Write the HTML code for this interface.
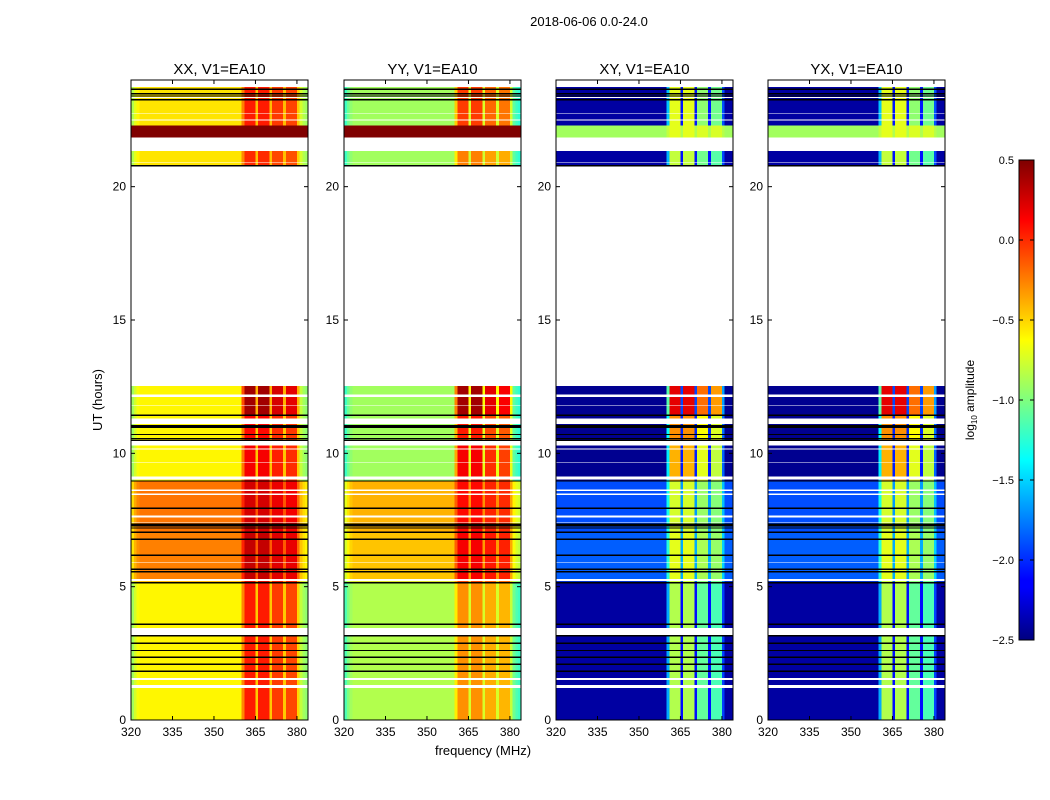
<!DOCTYPE html>
<html><head><meta charset="utf-8"><style>
body{margin:0;background:#fff;}
svg{display:block;font-family:"Liberation Sans","DejaVu Sans",sans-serif;}
</style></head><body>
<svg id="chart" width="1050" height="800" xmlns="http://www.w3.org/2000/svg">
<rect width="1050" height="800" fill="#fff"/>
<text x="589" y="26" font-size="13" text-anchor="middle">2018-06-06 0.0-24.0</text>
<text x="483" y="755" font-size="13" text-anchor="middle">frequency (MHz)</text>
<text transform="translate(102,400) rotate(-90)" font-size="13" text-anchor="middle">UT (hours)</text>
<defs><linearGradient id="jet" x1="0" y1="1" x2="0" y2="0">
<stop offset="0" stop-color="#00007f"/><stop offset="0.11" stop-color="#0000ff"/><stop offset="0.125" stop-color="#0000ff"/><stop offset="0.34" stop-color="#00dbff"/><stop offset="0.375" stop-color="#0ff"/><stop offset="0.5" stop-color="#7fff7f"/><stop offset="0.625" stop-color="#ff0"/><stop offset="0.66" stop-color="#ffdb00"/><stop offset="0.875" stop-color="#f00"/><stop offset="1" stop-color="#7f0000"/>
</linearGradient></defs>
<g id="panels"></g>
<g id="cbar"></g>
</svg>
<script>
// ---- data ----
const panelTitles = ["XX, V1=EA10","YY, V1=EA10","XY, V1=EA10","YX, V1=EA10"];
const segStart = [0, 5.2, 7.05, 8.96, 10.5, 11.4, 20.78, 21.84, 22.3];
const segEnd   = [5.2, 7.05, 8.96, 10.5, 11.4, 12.53, 21.34, 22.3, 23.73];
const xxBase = [-0.6, -0.25, -0.22, -0.6, -0.6, -0.6, -0.55, 0.5, -0.55];
const xxRfi  = [0.05, 0.3, 0.25, 0.15, 0.1, 0.4, 0.0, 0.5, 0.05];
const yyBase = [-0.85, -0.45, -0.4, -0.9, -0.9, -0.9, -0.9, 0.5, -0.9];
const yyRfi  = [-0.3, 0.15, 0.1, 0.15, 0.05, 0.4, -0.25, 0.5, -0.05];
const xyBase = [-2.4, -1.85, -1.9, -2.45, -2.45, -2.45, -2.4, -0.9, -2.4];
const xyRfi  = [-0.85, -0.7, -0.75, -0.4, -0.3, 0.2, -0.8, -0.7, -0.7];
const yxBase = [-2.4, -1.85, -1.9, -2.45, -2.45, -2.45, -2.4, -0.9, -2.4];
const yxRfi  = [-0.85, -0.7, -0.75, -0.4, -0.3, 0.2, -0.8, -0.7, -0.7];
const freqs = []; for (let f = 320; f < 384; f++) freqs.push(f);
const rfiWeight = {360:0.5,361:1,362:1,363:1,364:1,365:0.2,366:1,367:1,368:1,369:1,370:0.2,371:0.85,372:0.85,373:0.85,374:0.85,375:0.2,376:0.8,377:0.8,378:0.8,379:0.8,380:0.3};
const edgeAdj = {320:-0.3,321:-0.15,322:-0.05,380:-0.1,381:-0.2,382:-0.3,383:-0.35};
const blackLines = [1.83,2.09,2.35,2.61,2.88,3.16,3.59,5.15,5.56,5.65,6.18,6.78,7.04,7.2,7.28,7.34,7.94,8.96,10.49,10.56,10.71,10.98,11.04,11.43,20.78,23.26,23.4,23.48,23.65];
const whiteStart = [1.2,1.5,3.19,5.22,5.88,7.4,7.6,8.44,8.59,9.01,9.65,10.15,10.3,11.1,11.79,12.12,12.53,20.9,21.34,22.49,22.74,23.33];
const whiteEnd   = [1.31,1.58,3.45,5.28,5.91,7.43,7.66,8.49,8.65,9.14,9.68,10.18,10.5,11.31,11.82,12.2,20.78,20.93,21.84,22.52,22.77,23.36];
const xTicks = [320,335,350,365,380];
const yTicks = [0,5,10,15,20];
const cbTicks = [0.5,0.0,-0.5,-1.0,-1.5,-2.0,-2.5];
const cbLabels = ["0.5","0.0","\u22120.5","\u22121.0","\u22121.5","\u22122.0","\u22122.5"];
// ---- layout ----
const panelX = [131,344,556,768], PW = 177, PT = 80, PH = 640;
const vmin = -2.5, vmax = 0.5;
const NS = "http://www.w3.org/2000/svg";
function xs(px, f){ return px + (f-320)*PW/64; }
function ys(h){ return PT + PH - h*PH/24; }
function jet(v){
  let t = Math.max(0, Math.min(1, (v-vmin)/(vmax-vmin)));
  const c = a => Math.round(255*Math.max(0, Math.min(1, 1.5-Math.abs(4*t-a))));
  return `rgb(${c(3)},${c(2)},${c(1)})`;
}
function mk(tag, attrs, parent){ const e = document.createElementNS(NS, tag); for (const k in attrs) e.setAttribute(k, attrs[k]); parent.appendChild(e); return e; }
const root = document.getElementById('panels');
const bases = [xxBase, yyBase, xyBase, yxBase], rfis = [xxRfi, yyRfi, xyRfi, yxRfi];
const names = ["xx","yy","xy","yx"];
for (let p = 0; p < 4; p++) {
  const px = panelX[p];
  const g = mk('g', {}, root);
  
  
  const hm = mk('g', {'shape-rendering':'crispEdges'}, g);
  
  
  for (let s = 0; s < segStart.length; s++) {
    const y0 = ys(segEnd[s]), y1 = ys(segStart[s]);
    for (const f of freqs) {
      const w = rfiWeight[f] || 0;
      let v = bases[p][s] + w*(rfis[p][s]-bases[p][s]);
      if (p < 2 && bases[p][s] < 0.4) v += (edgeAdj[f] || 0);
      const r = mk('rect', {x: xs(px,f).toFixed(2), y: y0.toFixed(2), width: (PW/64+0.4).toFixed(2), height: (y1-y0).toFixed(2), fill: jet(v)}, hm);
      
      
    }
  }
  for (let i = 0; i < whiteStart.length; i++) {
    const wr = mk('rect', {x: px, y: ys(whiteEnd[i]), width: PW, height: ys(whiteStart[i]) - ys(whiteEnd[i]), fill: '#fff'}, hm);
    
    
  }
  for (const h of blackLines) {
    const bl = mk('line', {x1: px, x2: px+PW, y1: ys(h), y2: ys(h), stroke: '#000', 'stroke-width': 1.3}, hm);
    
    
  }
  const fr = mk('rect', {x: px, y: PT, width: PW, height: PH, fill: 'none', stroke: '#000', 'stroke-width': 1}, g);
  
  
  const t = mk('text', {x: px+PW/2, y: 74, 'font-size': 15, 'text-anchor': 'middle'}, g);
  t.textContent = panelTitles[p];
  
  
  for (const f of xTicks) {
    const x = xs(px, f);
    mk('line', {x1:x,x2:x,y1:PT+PH,y2:PT+PH-4,stroke:'#000'}, g);
    mk('line', {x1:x,x2:x,y1:PT,y2:PT+4,stroke:'#000'}, g);
    const tl = mk('text', {x:x, y:PT+PH+16, 'font-size':12, 'text-anchor':'middle'}, g);
    tl.textContent = f;
    
    
  }
  for (const h of yTicks) {
    const y = ys(h);
    mk('line', {x1:px,x2:px+4,y1:y,y2:y,stroke:'#000'}, g);
    mk('line', {x1:px+PW,x2:px+PW-4,y1:y,y2:y,stroke:'#000'}, g);
    const tl = mk('text', {x:px-5, y:y+4, 'font-size':12, 'text-anchor':'end'}, g);
    tl.textContent = h;
    
    
  }
}
// colorbar
const cb = document.getElementById('cbar');
const CBX = 1019, CBW = 15, CBT = 160, CBH = 480;
function cby(v){ return CBT + (vmax - v)/(vmax - vmin)*CBH; }
mk('rect', {x:CBX, y:CBT, width:CBW, height:CBH, fill:'url(#jet)', stroke:'#000', 'stroke-width':1}, cb);
cbTicks.forEach((v, i) => {
  const y = cby(v);
  mk('line', {x1:CBX, x2:CBX+4, y1:y, y2:y, stroke:'#000'}, cb);
  mk('line', {x1:CBX+CBW, x2:CBX+CBW-4, y1:y, y2:y, stroke:'#000'}, cb);
  const tl = mk('text', {x:CBX-5, y:y+4, 'font-size':11, 'text-anchor':'end'}, cb);
  tl.textContent = cbLabels[i];
  
  
});
const cl = mk('text', {transform:'translate(974,400) rotate(-90)', 'font-size':12, 'text-anchor':'middle'}, cb);
cl.innerHTML = 'log<tspan font-size="8" dy="3">10</tspan><tspan dy="-3"> amplitude</tspan>';


</script>
</body></html>
